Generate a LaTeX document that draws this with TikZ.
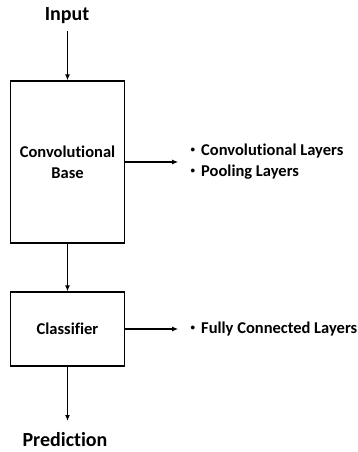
\documentclass[tikz,border=0pt]{standalone}
\usepackage{fontspec}
\setmainfont[Ligatures=NoCommon]{Carlito}
\usetikzlibrary{arrows.meta}
% small list bullet
\newcommand{\smallbul}{\raisebox{0.18em}{\fontsize{9}{9}\selectfont\textbullet}\hspace{6pt}}
\begin{document}
\begin{tikzpicture}[x=1pt,y=-1pt,
  block/.style={draw, line width=1.4pt, inner sep=0pt},
  flow/.style={line width=1.3pt, -{Latex[length=6pt,width=5pt]}},
  label/.style={font=\bfseries\fontsize{16.5}{20}\selectfont, inner sep=0pt},
  title/.style={font=\bfseries\fontsize{20}{24}\selectfont, inner sep=0pt}]
  \useasboundingbox (0,0) rectangle (358,452);
  % top and bottom labels
  \node[title] (in) at (67,16) {Input};
  \node[title] (out) at (65,440) {Prediction};
  % main blocks
  \node[block, minimum width=114pt, minimum height=162pt] (base) at (67.5,162) {};
  \node[label, align=center] at (base.center) {Convolutional\\[1pt]Base};
  \node[block, minimum width=114pt, minimum height=74pt] (cls) at (67.5,329) {};
  \node[label] at (cls.center) {Classifier};
  % bullet lists
  \node[label, anchor=west, align=left] (l1) at (190.5,162)
    {\smallbul Convolutional Layers\\[1pt]\smallbul Pooling Layers};
  \node[label, anchor=west] (l2) at (190.5,329) {\smallbul Fully Connected Layers};
  % connectors
  \coordinate (inA) at (67.5,31);
  \coordinate (outA) at (67.5,421);
  \draw[flow] (inA) -- (base.north);
  \draw[flow] (base.south) -- (cls.north);
  \draw[flow] (cls.south) -- (outA);
  \draw[flow] (base.east) -- ++(53,0);
  \draw[flow] (cls.east) -- ++(53,0);
\end{tikzpicture}
\end{document}
